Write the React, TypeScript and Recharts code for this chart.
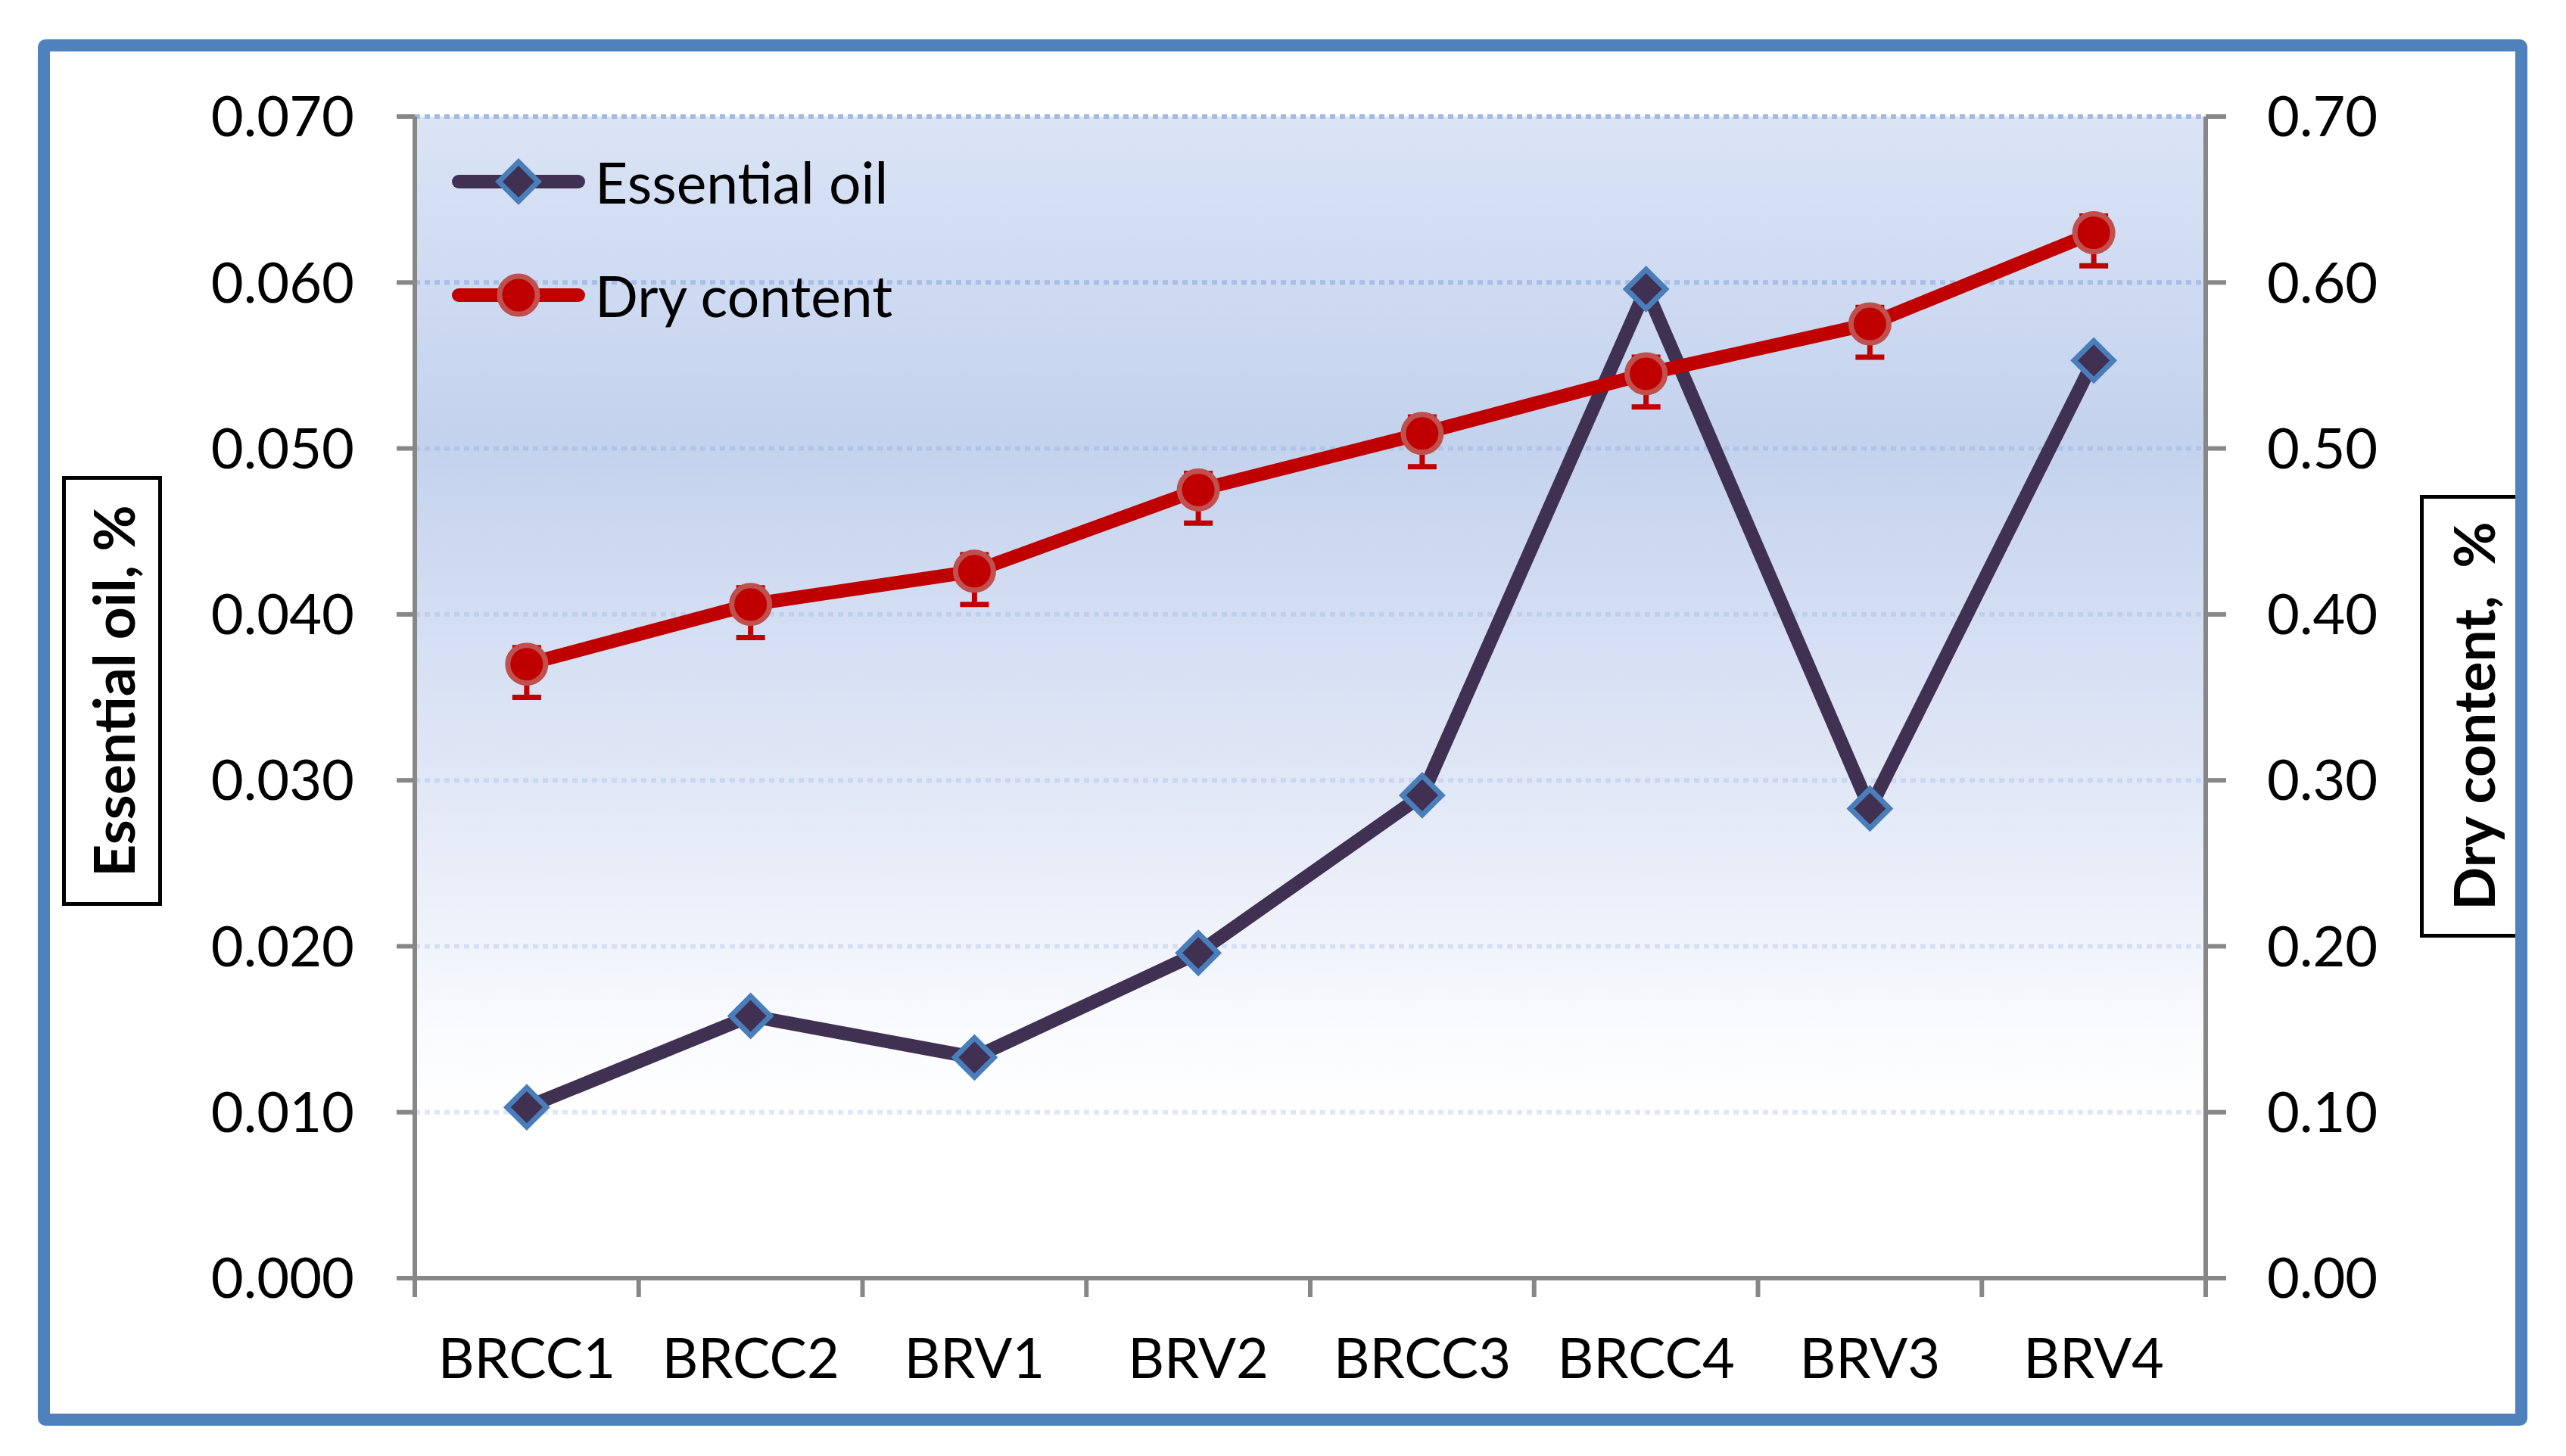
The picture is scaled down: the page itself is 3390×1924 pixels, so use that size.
import { CartesianGrid, ErrorBar, Legend, Line, LineChart, XAxis, YAxis } from 'recharts'

const categories = ['BRCC1', 'BRCC2', 'BRV1', 'BRV2', 'BRCC3', 'BRCC4', 'BRV3', 'BRV4']
const essentialOil = [0.0103, 0.0158, 0.0133, 0.0196, 0.0291, 0.0596, 0.0283, 0.0553]
const dryContent = [0.37, 0.406, 0.426, 0.475, 0.509, 0.545, 0.575, 0.63]
const dryErrLow = [0.02, 0.02, 0.02, 0.02, 0.02, 0.02, 0.02, 0.02]
const dryErrHigh = [0.01, 0.01, 0.01, 0.01, 0.01, 0.01, 0.01, 0.01]
const oilTicks = [0, 0.01, 0.02, 0.03, 0.04, 0.05, 0.06, 0.07]
const dryTicks = [0, 0.1, 0.2, 0.3, 0.4, 0.5, 0.6, 0.7]
const seriesOrder = ['oil', 'dry']

const FONT = 'Lato, "Open Sans", sans-serif'
const AXIS = '#878787'
const OIL = '#403152'
const OIL_EDGE = '#4a7ebb'
const DRY = '#c00000'
const DRY_EDGE = '#c0504d'

const data = categories.map((name, i) => ({
  name,
  pos: i + 0.5,
  oil: essentialOil[i],
  dry: dryContent[i],
  dryErr: [dryErrLow[i], dryErrHigh[i]],
}))

// band edges get tick marks, band centres get the labels
const xTicks = Array.from({ length: categories.length * 2 + 1 }, (_, k) => k / 2)

function XTick(props: any) {
  const { x, y, payload } = props
  const v = payload.value
  if (Number.isInteger(v)) {
    return <line x1={x} x2={x} y1={y} y2={y + 25} stroke={AXIS} strokeWidth={6} />
  }
  return (
    <text x={x} y={y + 132} textAnchor="middle" fontSize={74} fontFamily={FONT} fill="#000">
      {categories[Math.floor(v)]}
    </text>
  )
}

function Diamond({ cx, cy, s = 26 }: { cx: number; cy: number; s?: number }) {
  return (
    <path
      d={`M${cx},${cy - s} L${cx + s},${cy} L${cx},${cy + s} L${cx - s},${cy} Z`}
      fill={OIL}
      stroke={OIL_EDGE}
      strokeWidth={7}
    />
  )
}

function Ring({ cx, cy }: { cx: number; cy: number }) {
  return <circle cx={cx} cy={cy} r={25} fill={DRY} stroke={DRY_EDGE} strokeWidth={7} />
}

function LeftTitle() {
  return (
    <g>
      <rect x={84.5} y={631.5} width={127} height={563} fill="#fff" stroke="#000" strokeWidth={5} />
      <text
        transform="translate(178,913) rotate(-90)"
        textAnchor="middle"
        fontSize={75}
        fontWeight="bold"
        fontFamily={FONT}
        fill="#000"
      >
        Essential oil, %
      </text>
    </g>
  )
}

function RightTitle() {
  return (
    <g>
      <rect x={3199.5} y={656.5} width={128} height={580} fill="#fff" stroke="#000" strokeWidth={5} />
      <text
        transform="translate(3296,946) rotate(-90)"
        textAnchor="middle"
        fontSize={75}
        fontWeight="bold"
        fontFamily={FONT}
        fill="#000"
        style={{ whiteSpace: 'pre' }}
      >
        {'Dry content,  %'}
      </text>
    </g>
  )
}

function renderLegend(props: any) {
  const payload = [...(props.payload || [])].sort(
    (a: any, b: any) => seriesOrder.indexOf(a.dataKey) - seriesOrder.indexOf(b.dataKey),
  )
  return (
    <div>
      {payload.map((entry: any, i: number) => {
        const isOil = entry.dataKey === 'oil'
        const color = isOil ? OIL : DRY
        return (
          <div
            key={entry.value}
            style={{ display: 'flex', alignItems: 'center', height: 70, marginBottom: i === 0 ? 80 : 0 }}
          >
            <svg width={189} height={70}>
              <line x1={9} x2={167} y1={35} y2={35} stroke={color} strokeWidth={18} strokeLinecap="round" />
              {isOil ? <Diamond cx={88} cy={35} /> : <Ring cx={88} cy={35} />}
            </svg>
            <span style={{ fontFamily: FONT, fontSize: 75, lineHeight: '70px', color: '#000' }}>{entry.value}</span>
          </div>
        )
      })}
    </div>
  )
}

export default function App() {
  return (
    <div style={{ position: 'absolute', left: 0, top: 0, width: 3390, height: 1924, background: '#fff' }}>
      <LineChart
        width={3390}
        height={1924}
        data={data}
        margin={{ top: 154, right: 276, bottom: 115, left: 348 }}
      >
        <defs>
          <linearGradient id="plotBg" x1="0" y1="0" x2="0" y2="1">
            <stop offset="0%" stopColor="#dbe4f5" />
            <stop offset="14%" stopColor="#cfdbf2" />
            <stop offset="28%" stopColor="#c3d2ed" />
            <stop offset="43%" stopColor="#d4def3" />
            <stop offset="57%" stopColor="#e0e7f6" />
            <stop offset="71%" stopColor="#f0f3fb" />
            <stop offset="79%" stopColor="#fafbfe" />
            <stop offset="86%" stopColor="#ffffff" />
            <stop offset="100%" stopColor="#ffffff" />
          </linearGradient>
          <linearGradient id="gridLn" gradientUnits="userSpaceOnUse" x1="0" y1="154" x2="0" y2="1689">
            <stop offset="0%" stopColor="#a3bae3" />
            <stop offset="14%" stopColor="#a7bee6" />
            <stop offset="28%" stopColor="#afc3e8" />
            <stop offset="43%" stopColor="#bfcfee" />
            <stop offset="57%" stopColor="#cad7f1" />
            <stop offset="71%" stopColor="#d5dff4" />
            <stop offset="86%" stopColor="#dfe7f6" />
            <stop offset="100%" stopColor="#e6ecf8" />
          </linearGradient>
        </defs>
        <CartesianGrid
          yAxisId="left"
          vertical={false}
          fill="url(#plotBg)"
          stroke="url(#gridLn)"
          strokeWidth={6}
          strokeDasharray="7 6"
        />
        <XAxis
          type="number"
          dataKey="pos"
          domain={[0, categories.length]}
          ticks={xTicks}
          interval={0}
          height={120}
          tickSize={0}
          tickMargin={0}
          tickLine={false}
          axisLine={{ stroke: AXIS, strokeWidth: 6 }}
          tick={<XTick />}
        />
        <YAxis
          yAxisId="left"
          orientation="left"
          width={200}
          domain={[0, 0.07]}
          ticks={oilTicks}
          interval={0}
          tickFormatter={(v: number) => v.toFixed(3)}
          tickSize={24}
          tickMargin={56}
          axisLine={{ stroke: AXIS, strokeWidth: 6 }}
          tickLine={{ stroke: AXIS, strokeWidth: 6 }}
          tick={{ fill: '#000', fontSize: 74, fontFamily: FONT }}
          label={<LeftTitle />}
        />
        <YAxis
          yAxisId="right"
          orientation="right"
          width={200}
          domain={[0, 0.7]}
          ticks={dryTicks}
          interval={0}
          tickFormatter={(v: number) => v.toFixed(2)}
          tickSize={27}
          tickMargin={54}
          axisLine={{ stroke: AXIS, strokeWidth: 6 }}
          tickLine={{ stroke: AXIS, strokeWidth: 6 }}
          tick={{ fill: '#000', fontSize: 74, fontFamily: FONT }}
          label={<RightTitle />}
        />
        <Legend
          layout="vertical"
          align="center"
          verticalAlign="middle"
          wrapperStyle={{ left: 597, top: 205, width: 700, height: 220 }}
          content={renderLegend}
        />
        <Line
          yAxisId="left"
          name="Essential oil"
          dataKey="oil"
          type="linear"
          stroke={OIL}
          strokeWidth={18}
          strokeLinejoin="round"
          dot={(p: any) => <Diamond key={`d${p.index}`} cx={p.cx} cy={p.cy} />}
          activeDot={false}
          isAnimationActive={false}
        />
        <Line
          yAxisId="right"
          name="Dry content"
          dataKey="dry"
          type="linear"
          stroke={DRY}
          strokeWidth={18}
          strokeLinejoin="round"
          dot={(p: any) => <Ring key={`r${p.index}`} cx={p.cx} cy={p.cy} />}
          activeDot={false}
          isAnimationActive={false}
        >
          <ErrorBar dataKey="dryErr" direction="y" stroke={DRY} strokeWidth={7} width={19} />
        </Line>
      </LineChart>
      <div
        style={{
          position: 'absolute',
          left: 50,
          top: 52,
          width: 3289,
          height: 1832,
          border: '16px solid #4f81bd',
          borderRadius: 10,
          boxSizing: 'border-box',
          pointerEvents: 'none',
        }}
      />
    </div>
  )
}
